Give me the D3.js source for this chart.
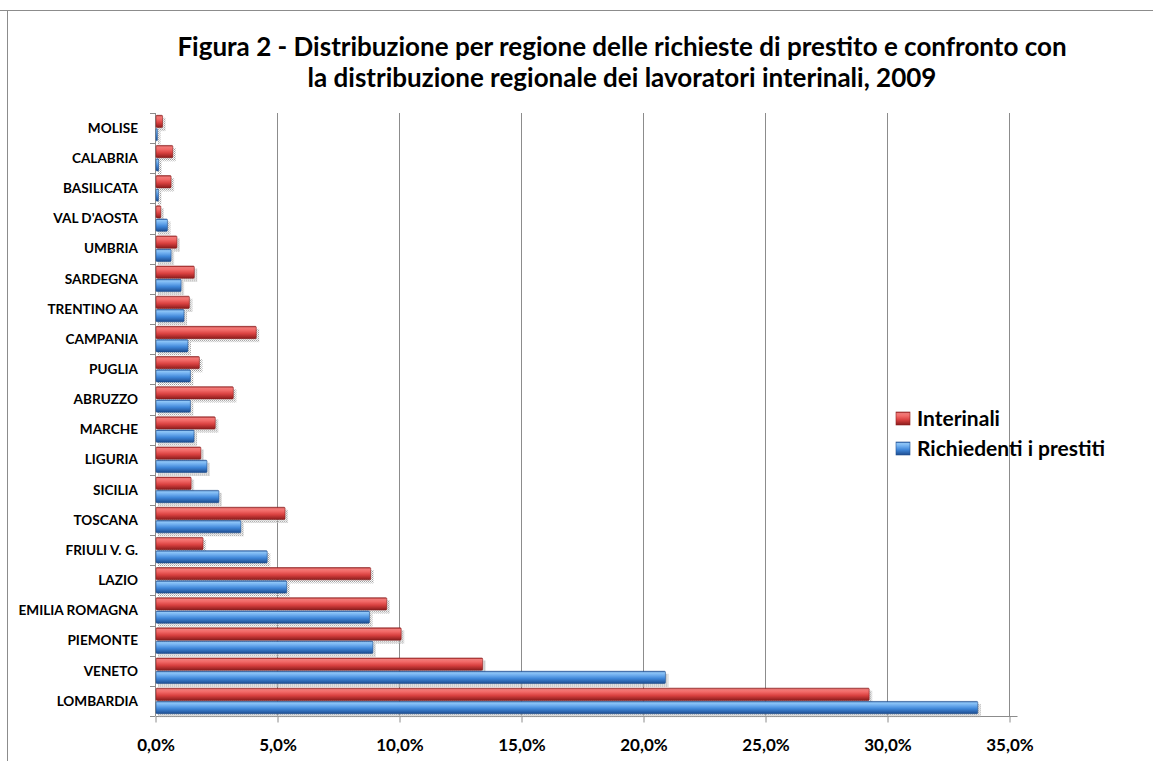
<!DOCTYPE html>
<html>
<head>
<meta charset="utf-8">
<script src="https://cdn.jsdelivr.net/npm/d3@7"></script>
<style>
  html, body { margin: 0; padding: 0; background: #fff; }
  svg { display: block; font-family: Lato, "Open Sans", sans-serif; }
</style>
</head>
<body>
<div id="chart"></div>
<script>
// categories, top to bottom as in the picture
const regions = ['MOLISE', 'CALABRIA', 'BASILICATA', "VAL D'AOSTA", 'UMBRIA', 'SARDEGNA',
  'TRENTINO AA', 'CAMPANIA', 'PUGLIA', 'ABRUZZO', 'MARCHE', 'LIGURIA', 'SICILIA',
  'TOSCANA', 'FRIULI V. G.', 'LAZIO', 'EMILIA ROMAGNA', 'PIEMONTE', 'VENETO', 'LOMBARDIA'];

// shares in percent
const interinali = [0.31, 0.73, 0.66, 0.24, 0.90, 1.61, 1.41, 4.15, 1.82, 3.21, 2.47, 1.88, 1.48,
  5.33, 1.97, 8.84, 9.50, 10.09, 13.43, 29.27];
const richiedenti = [0.10, 0.15, 0.14, 0.51, 0.66, 1.07, 1.19, 1.35, 1.45, 1.45, 1.60, 2.13, 2.62,
  3.52, 4.60, 5.40, 8.79, 8.93, 20.92, 33.72];

const xTicks = [0, 5, 10, 15, 20, 25, 30, 35];
const seriesNames = ['Interinali', 'Richiedenti i prestiti'];
const titleLines = ['Figura 2 - Distribuzione per regione delle richieste di prestito e confronto con',
  'la distribuzione regionale dei lavoratori interinali, 2009'];

const W = 1153, H = 761;
const plot = { left: 155, right: 1009, top: 113, bottom: 716 };

const svg = d3.select('#chart').append('svg')
  .attr('width', W)
  .attr('height', H);

const defs = svg.append('defs');

function barGradient(id, stops) {
  const g = defs.append('linearGradient')
    .attr('id', id)
    .attr('x1', 0).attr('y1', 0).attr('x2', 0).attr('y2', 1);
  stops.forEach(s => g.append('stop').attr('offset', s[0]).attr('stop-color', s[1]));
}
barGradient('gRed', [[0, '#a52a2a'], [0.12, '#f07a78'], [0.3, '#f26a68'], [0.6, '#d94140'], [1, '#8a1c1c']]);
barGradient('gBlue', [[0, '#2a5ea8'], [0.12, '#8fc6f7'], [0.3, '#72b0f0'], [0.6, '#3f86d8'], [1, '#1d4c8f']]);

// dotted shadow
const pat = defs.append('pattern')
  .attr('id', 'dots')
  .attr('width', 2).attr('height', 2)
  .attr('patternUnits', 'userSpaceOnUse');
pat.append('rect').attr('width', 1).attr('height', 1).attr('fill', '#9a9a9a');
pat.append('rect').attr('x', 1).attr('y', 1).attr('width', 1).attr('height', 1).attr('fill', '#c4c4c4');

// frame
svg.append('line').attr('x1', 0).attr('x2', W).attr('y1', 10.5).attr('y2', 10.5)
  .attr('stroke', '#8c8c8c');
svg.append('line').attr('x1', 7.5).attr('x2', 7.5).attr('y1', 10).attr('y2', H)
  .attr('stroke', '#8c8c8c');

// title
svg.append('g').selectAll('text')
  .data(titleLines)
  .enter()
  .append('text')
  .attr('x', 622)
  .attr('y', (d, i) => 56 + i * 31)
  .attr('text-anchor', 'middle')
  .attr('font-size', 26)
  .attr('font-weight', 'bold')
  .attr('fill', '#000')
  .text(d => d);

const x = d3.scaleLinear()
  .domain([0, 35])
  .range([plot.left, plot.right]);

const y = d3.scaleBand()
  .domain(regions)
  .range([plot.top, plot.bottom])
  .paddingInner(0.12)
  .paddingOuter(0.06);

const ySeries = d3.scaleBand()
  .domain(seriesNames)
  .range([0, y.bandwidth()]);

// gridlines
svg.append('g')
  .selectAll('line')
  .data(xTicks.slice(1))
  .enter()
  .append('line')
  .attr('x1', d => Math.round(x(d)) + 0.5)
  .attr('x2', d => Math.round(x(d)) + 0.5)
  .attr('y1', plot.top)
  .attr('y2', plot.bottom)
  .attr('stroke', '#8c8c8c');

const loc = d3.formatLocale({ decimal: ',', thousands: '.', grouping: [3], currency: ['', '€'] });
const fmt = loc.format('.1f');

const xAxis = d3.axisBottom(x)
  .tickValues(xTicks)
  .tickSize(6)
  .tickPadding(16)
  .tickFormat(d => fmt(d) + '%');

const gx = svg.append('g')
  .attr('transform', `translate(0.5, ${plot.bottom + 0.5})`)
  .call(xAxis);
gx.select('.domain').attr('stroke', '#8c8c8c').attr('d', `M${plot.left},0H${plot.right + 8}`);
gx.selectAll('.tick line').attr('stroke', '#8c8c8c')
  .attr('transform', d => `translate(${Math.round(x(d)) - x(d)},0)`);
gx.selectAll('.tick text')
  .attr('font-family', 'Lato, sans-serif')
  .attr('font-size', 17)
  .attr('font-weight', 'bold')
  .attr('fill', '#000');

// left axis with ticks between categories
const gy = svg.append('g');
gy.append('line')
  .attr('x1', plot.left + 0.5).attr('x2', plot.left + 0.5)
  .attr('y1', plot.top).attr('y2', plot.bottom)
  .attr('stroke', '#8c8c8c');
gy.selectAll('.sep')
  .data(d3.range(regions.length + 1))
  .enter()
  .append('line')
  .attr('class', 'sep')
  .attr('x1', plot.left - 5).attr('x2', plot.left)
  .attr('y1', i => Math.round(plot.top + i * y.step()) + 0.5)
  .attr('y2', i => Math.round(plot.top + i * y.step()) + 0.5)
  .attr('stroke', '#8c8c8c');
gy.selectAll('.lab')
  .data(regions)
  .enter()
  .append('text')
  .attr('class', 'lab')
  .attr('x', 138)
  .attr('y', d => y(d) + y.bandwidth() / 2)
  .attr('dy', '0.35em')
  .attr('text-anchor', 'end')
  .attr('font-size', 13.6)
  .attr('font-weight', 'bold')
  .attr('fill', '#000')
  .text(d => d);

// bars
const rows = regions.map((r, i) => ({ region: r, vals: [interinali[i], richiedenti[i]] }));
const fills = ['url(#gRed)', 'url(#gBlue)'];
const strokes = ['#8a2020', '#22508f'];

const rowG = svg.append('g')
  .selectAll('g')
  .data(rows)
  .enter()
  .append('g')
  .attr('transform', d => `translate(0, ${y(d.region)})`);

const bars = rowG.selectAll('g')
  .data(d => d.vals.map((v, k) => ({ v, k })))
  .enter()
  .append('g');

bars.append('rect')
  .attr('x', x(0) + 3)
  .attr('y', d => ySeries(seriesNames[d.k]) + 3)
  .attr('width', d => x(d.v) - x(0))
  .attr('height', ySeries.bandwidth())
  .attr('fill', 'url(#dots)');

bars.append('rect')
  .attr('x', x(0) + 1)
  .attr('y', d => ySeries(seriesNames[d.k]) + 0.5)
  .attr('width', d => x(d.v) - x(0) - 1)
  .attr('height', ySeries.bandwidth() - 1)
  .attr('rx', 1)
  .attr('fill', d => fills[d.k])
  .attr('stroke', d => strokes[d.k])
  .attr('stroke-width', 0.6);

// legend
const legend = svg.append('g')
  .selectAll('g')
  .data(seriesNames)
  .enter()
  .append('g')
  .attr('transform', (d, i) => `translate(896, ${412 + i * 30})`);

legend.append('rect')
  .attr('width', 14)
  .attr('height', 13)
  .attr('fill', (d, i) => fills[i])
  .attr('stroke', (d, i) => strokes[i])
  .attr('stroke-width', 0.6);

legend.append('text')
  .attr('x', 21)
  .attr('y', 14)
  .attr('font-size', 21)
  .attr('font-weight', 'bold')
  .attr('fill', '#000')
  .text(d => d);
</script>
</body>
</html>
